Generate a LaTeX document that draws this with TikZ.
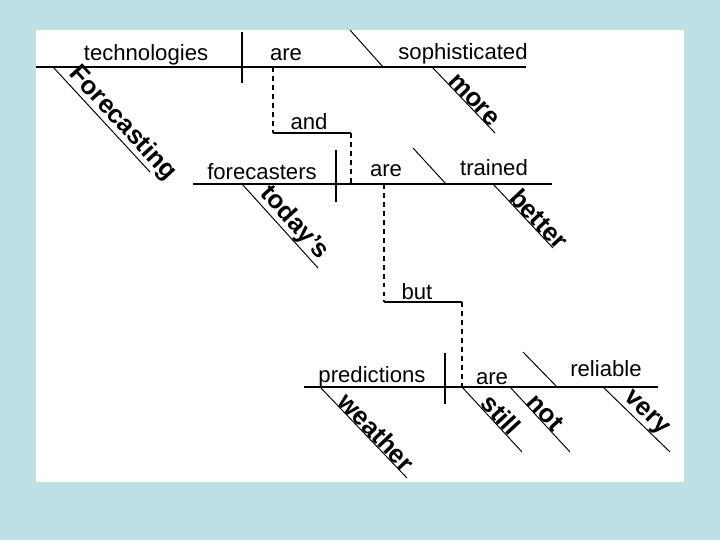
\documentclass[tikz,border=0pt]{standalone}
\usepackage{fontspec}
\setmainfont{Liberation Sans}
\usepackage{xcolor}
\usepackage{tikz}
\usetikzlibrary{positioning}
\definecolor{slidebg}{HTML}{BCE0E4}

\begin{document}
\begin{tikzpicture}[
    x=0.02cm, y=-0.02cm,
    baseline/.style={line width=1.1pt},
    divider/.style={line width=1.1pt},
    slant/.style={line width=0.55pt},
    joiner/.style={line width=1.1pt, dash pattern=on 2.8pt off 2.3pt},
    word/.style={font=\fontsize{12.6}{14}\selectfont, anchor=base, inner sep=0pt},
    modword/.style={font=\fontsize{14.6}{16}\selectfont\bfseries, sloped, above, inner sep=0pt},
]

% ============================================================
% SLIDE
% ============================================================
\fill[slidebg] (0,0) rectangle (720,540);
\useasboundingbox (0,0) rectangle (720,540);
\fill[white] (36,30) rectangle (684,482);

% ============================================================
% CLAUSE 1: technologies are sophisticated
% ============================================================
\draw[baseline] (36,67) -- (526,67);
\draw[divider] (242,32) -- (242,83);
\draw[slant] (350,30) -- (383,67);
\coordinate (verb1) at (273,67);

\node[word] (subj1) at (146,61) {technologies};
\node[word] (pred1) at (286,61) {are};
\node[word] (comp1) at (463,60) {sophisticated};

\draw[slant] (53,67) -- (150,172) node[modword, pos=0.62] (mod1a) {Forecasting};
\draw[slant] (432,67) -- (495,133) node[modword, pos=0.58] (mod1b) {more};

% ============================================================
% CONJUNCTION: and
% ============================================================
\coordinate (and1) at (273,133);
\coordinate (and2) at (351,133);
\coordinate (verb2top) at (351,184);
\draw[joiner] (verb1) -- (and1);
\draw[baseline] (and1) -- (and2);
\draw[joiner] (and2) -- (verb2top);
\node[word] (conj1) at (309,130) {and};

% ============================================================
% CLAUSE 2: forecasters are trained
% ============================================================
\draw[baseline] (193,184) -- (552,184);
\draw[divider] (336,150) -- (336,202);
\draw[slant] (413,148) -- (446,184);
\coordinate (verb2) at (384,184);

\node[word] (subj2) at (262,180) {forecasters};
\node[word] (pred2) at (386,177) {are};
\node[word] (comp2) at (494,176) {trained};

\draw[slant] (242,184) -- (318,268) node[modword, pos=0.565] (mod2a) {today's};
\draw[slant] (493,184) -- (553,248) node[modword, pos=0.65] (mod2b) {better};

% ============================================================
% CONJUNCTION: but
% ============================================================
\coordinate (but1) at (384,302);
\coordinate (but2) at (462,302);
\coordinate (verb3) at (462,387);
\draw[joiner] (verb2) -- (but1);
\draw[baseline] (but1) -- (but2);
\draw[joiner] (but2) -- (verb3);
\node[word] (conj2) at (417,300) {but};

% ============================================================
% CLAUSE 3: predictions are reliable
% ============================================================
\draw[baseline] (304,387) -- (658,387);
\draw[divider] (445,353) -- (445,404);
\draw[slant] (523,352) -- (557,387);

\node[word] (subj3) at (372,382) {predictions};
\node[word] (pred3) at (492,384) {are};
\node[word] (comp3) at (606,377) {reliable};

\draw[slant] (320,387) -- (407,478) node[modword, pos=0.57] (mod3a) {weather};
\draw[slant] (462,387) -- (522,452) node[modword, pos=0.53] (mod3b) {still};
\draw[slant] (510,387) -- (570,452) node[modword, pos=0.48] (mod3c) {not};
\draw[slant] (603,387) -- (670,452) node[modword, pos=0.53] (mod3d) {very};

\end{tikzpicture}
\end{document}
